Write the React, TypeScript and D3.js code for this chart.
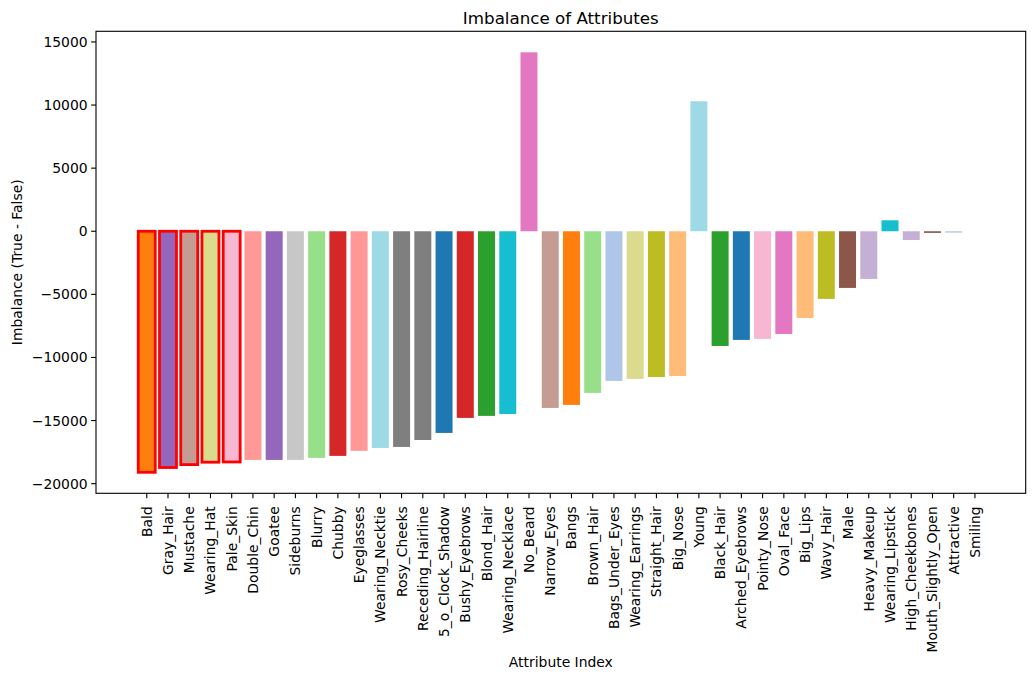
import React from "react";
import * as d3 from "d3";

const attributes = [
  "Bald", "Gray_Hair", "Mustache", "Wearing_Hat", "Pale_Skin", "Double_Chin", "Goatee", "Sideburns",
  "Blurry", "Chubby", "Eyeglasses", "Wearing_Necktie", "Rosy_Cheeks", "Receding_Hairline",
  "5_o_Clock_Shadow", "Bushy_Eyebrows", "Blond_Hair", "Wearing_Necklace", "No_Beard", "Narrow_Eyes",
  "Bangs", "Brown_Hair", "Bags_Under_Eyes", "Wearing_Earrings", "Straight_Hair", "Big_Nose", "Young",
  "Black_Hair", "Arched_Eyebrows", "Pointy_Nose", "Oval_Face", "Big_Lips", "Wavy_Hair", "Male",
  "Heavy_Makeup", "Wearing_Lipstick", "High_Cheekbones", "Mouth_Slightly_Open", "Attractive", "Smiling",
];

const imbalance = [
  -19100, -18720, -18490, -18300, -18280, -18120, -18120, -18120,
  -17960, -17800, -17400, -17170, -17090, -16540,
  -15980, -14790, -14630, -14480, 14180, -14000,
  -13760, -12810, -11860, -11700, -11550, -11470, 10300,
  -9090, -8610, -8530, -8140, -6870, -5360, -4490,
  -3780, 870, -690, -130, -110, 0,
];

const barColors = [
  "#ff7f0e", "#9467bd", "#c49c94", "#dbdb8d", "#f7b6d2", "#ff9896", "#9467bd", "#c7c7c7",
  "#98df8a", "#d62728", "#ff9896", "#9edae5", "#7f7f7f", "#7f7f7f",
  "#1f77b4", "#d62728", "#2ca02c", "#17becf", "#e377c2", "#c49c94",
  "#ff7f0e", "#98df8a", "#aec7e8", "#dbdb8d", "#bcbd22", "#ffbb78", "#9edae5",
  "#2ca02c", "#1f77b4", "#f7b6d2", "#e377c2", "#ffbb78", "#bcbd22", "#8c564b",
  "#c5b0d5", "#17becf", "#c5b0d5", "#8c564b", "#aec7e8", "#c7c7c7",
];

const highlighted = ["Bald", "Gray_Hair", "Mustache", "Wearing_Hat", "Pale_Skin"];

const yTicks = [-20000, -15000, -10000, -5000, 0, 5000, 10000, 15000];

const W = 1034;
const H = 679;
const L = 96;
const R = 1025.7;
const T = 31.3;
const B = 493.3;

export default function App() {
  const n = attributes.length;
  const barW = 0.8;
  const xMin = -barW / 2;
  const xMax = n - 1 + barW / 2;
  const xm = (xMax - xMin) * 0.05;
  const x = d3.scaleLinear().domain([xMin - xm, xMax + xm]).range([L, R]);

  const yLo = Math.min(0, d3.min(imbalance) as number);
  const yHi = Math.max(0, d3.max(imbalance) as number);
  const ym = (yHi - yLo) * 0.05;
  const y = d3.scaleLinear().domain([yLo - ym, yHi + ym]).range([B, T]);

  const font = "DejaVu Sans, sans-serif";
  const fmt = (v: number) => (v < 0 ? "\u2212" + Math.abs(v) : String(v));

  return (
    <svg
      width={W}
      height={H}
      style={{ position: "absolute", left: 0, top: 0, display: "block", background: "#fff" }}
      fontFamily={font}
    >
      <rect x={0} y={0} width={W} height={H} fill="#fff" />
      {imbalance.map((v, i) => {
        const x0 = x(i - barW / 2);
        const x1 = x(i + barW / 2);
        const y0 = y(Math.max(0, v));
        const y1 = y(Math.min(0, v));
        const hl = highlighted.includes(attributes[i]);
        return (
          <rect
            key={attributes[i]}
            x={x0}
            y={y0}
            width={x1 - x0}
            height={Math.max(0, y1 - y0)}
            fill={barColors[i]}
            stroke={hl ? "#ff0000" : "none"}
            strokeWidth={hl ? 2.8 : 0}
          />
        );
      })}
      <rect x={L} y={T} width={R - L} height={B - T} fill="none" stroke="#000" strokeWidth={1.1} />
      {yTicks.map((t) => (
        <g key={t}>
          <line x1={L} x2={L - 4.9} y1={y(t)} y2={y(t)} stroke="#000" strokeWidth={1.1} />
          <text x={L - 8.4} y={y(t)} textAnchor="end" dominantBaseline="central" fontSize={13.9} fill="#000">
            {fmt(t)}
          </text>
        </g>
      ))}
      {attributes.map((a, i) => (
        <g key={a}>
          <line x1={x(i)} x2={x(i)} y1={B} y2={B + 4.9} stroke="#000" strokeWidth={1.1} />
          <text
            transform={`translate(${x(i)},${B + 13}) rotate(-90)`}
            textAnchor="end"
            dominantBaseline="central"
            fontSize={13.9}
            fill="#000"
          >
            {a}
          </text>
        </g>
      ))}
      <text x={(L + R) / 2} y={T - 7} textAnchor="middle" fontSize={16.7} fill="#000">
        Imbalance of Attributes
      </text>
      <text x={(L + R) / 2} y={667} textAnchor="middle" fontSize={13.9} fill="#000">
        Attribute Index
      </text>
      <text
        transform={`translate(16.5,${(T + B) / 2}) rotate(-90)`}
        textAnchor="middle"
        dominantBaseline="central"
        fontSize={13.9}
        fill="#000"
      >
        Imbalance (True - False)
      </text>
    </svg>
  );
}
